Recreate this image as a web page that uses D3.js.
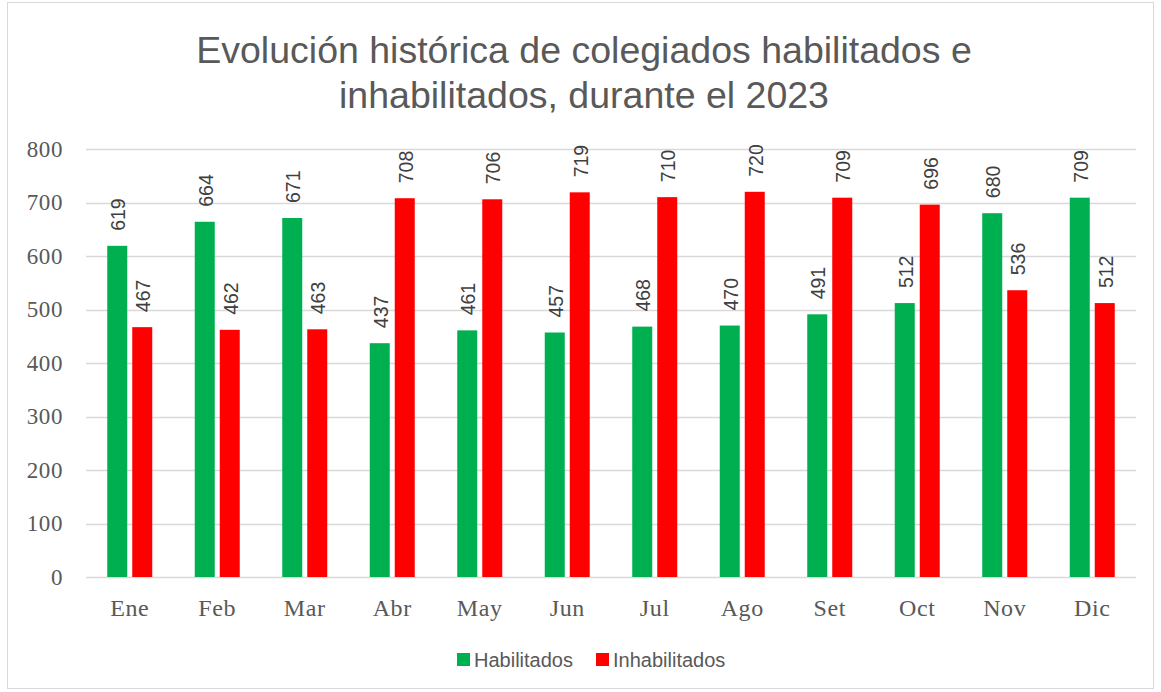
<!DOCTYPE html>
<html>
<head>
<meta charset="utf-8">
<script src="https://cdn.jsdelivr.net/npm/d3@7"></script>
<style>
  body { margin: 0; background: #fff; }
  svg { display: block; }
</style>
</head>
<body>
<svg id="chart" width="1161" height="692"></svg>
<script>
const months = ["Ene", "Feb", "Mar", "Abr", "May", "Jun", "Jul", "Ago", "Set", "Oct", "Nov", "Dic"];
const habilitados = [619, 664, 671, 437, 461, 457, 468, 470, 491, 512, 680, 709];
const inhabilitados = [467, 462, 463, 708, 706, 719, 710, 720, 709, 696, 536, 512];
const yTicks = [0, 100, 200, 300, 400, 500, 600, 700, 800];
const seriesNames = ["Habilitados", "Inhabilitados"];

const colors = { Habilitados: "#00B050", Inhabilitados: "#FF0000" };

const svg = d3.select("#chart");
const margin = { left: 86, right: 25, top: 149, bottom: 115 };
const W = 1161, H = 692;

// outer frame
svg.append("rect")
  .attr("x", 7.5).attr("y", 2.5)
  .attr("width", 1146).attr("height", 686)
  .attr("fill", "#fff")
  .attr("stroke", "#d9d9d9");

// title
const title = svg.append("text")
  .attr("text-anchor", "middle")
  .attr("font-family", "Liberation Sans, Arial, sans-serif")
  .attr("font-size", 37.5)
  .attr("fill", "#595959");
title.append("tspan").attr("x", 584).attr("y", 63).text("Evolución histórica de colegiados habilitados e");
title.append("tspan").attr("x", 584).attr("y", 108).text("inhabilitados, durante el 2023");

const x = d3.scaleBand()
  .domain(months)
  .range([margin.left, W - margin.right])
  .paddingInner(0)
  .paddingOuter(0);

const y = d3.scaleLinear()
  .domain([0, 800])
  .range([H - margin.bottom, margin.top]);

const x1 = d3.scaleBand()
  .domain(seriesNames)
  .range([x.bandwidth() / 2 - 22.5, x.bandwidth() / 2 + 22.5])
  .paddingInner(0.2);

// gridlines
svg.append("g")
  .selectAll("line")
  .data(yTicks)
  .join("line")
  .attr("x1", margin.left)
  .attr("x2", W - margin.right)
  .attr("y1", d => Math.round(y(d)) + 0.5)
  .attr("y2", d => Math.round(y(d)) + 0.5)
  .attr("stroke", "#d9d9d9")
  .attr("stroke-width", 1.5);

// y axis labels
const yAxis = svg.append("g")
  .attr("transform", `translate(${margin.left - 23},0)`)
  .call(d3.axisLeft(y).tickValues(yTicks).tickSize(0).tickPadding(0));
yAxis.select(".domain").remove();
yAxis.selectAll("text")
  .attr("font-family", "Liberation Serif, serif")
  .attr("font-size", 23)
  .attr("letter-spacing", 0.6)
  .attr("fill", "#595959");

// x axis labels
const xAxis = svg.append("g")
  .attr("transform", `translate(0,${H - margin.bottom})`)
  .call(d3.axisBottom(x).tickSize(0).tickPadding(0));
xAxis.select(".domain").remove();
xAxis.selectAll("text")
  .attr("font-family", "Liberation Serif, serif")
  .attr("font-size", 24)
  .attr("letter-spacing", 0.6)
  .attr("fill", "#595959")
  .attr("y", 39)
  .attr("dy", 0);

const rows = months.map((m, i) => ({
  month: m,
  values: [
    { key: "Habilitados", value: habilitados[i] },
    { key: "Inhabilitados", value: inhabilitados[i] }
  ]
}));

const groups = svg.append("g")
  .selectAll("g")
  .data(rows)
  .join("g")
  .attr("transform", d => `translate(${x(d.month)},0)`);

groups.selectAll("rect")
  .data(d => d.values)
  .join("rect")
  .attr("x", d => x1(d.key))
  .attr("width", x1.bandwidth())
  .attr("y", d => y(d.value))
  .attr("height", d => y(0) - y(d.value))
  .attr("fill", d => colors[d.key]);

groups.selectAll("text")
  .data(d => d.values)
  .join("text")
  .attr("transform", d => `translate(${x1(d.key) + x1.bandwidth() / 2 + 1},${y(d.value) - 15}) rotate(-90)`)
  .attr("dy", "0.35em")
  .attr("text-anchor", "start")
  .attr("font-family", "Liberation Sans, Arial, sans-serif")
  .attr("font-size", 19.5)
  .attr("fill", "#404040")
  .text(d => d.value);

// legend
const legend = svg.append("g");
const legendItems = [
  { key: "Habilitados", x: 457 },
  { key: "Inhabilitados", x: 596 }
];
legend.selectAll("rect")
  .data(legendItems)
  .join("rect")
  .attr("x", d => d.x)
  .attr("y", 653)
  .attr("width", 13)
  .attr("height", 13)
  .attr("fill", d => colors[d.key]);
legend.selectAll("text")
  .data(legendItems)
  .join("text")
  .attr("x", d => d.x + 17)
  .attr("y", 667)
  .attr("font-family", "Liberation Sans, Arial, sans-serif")
  .attr("font-size", 20)
  .attr("fill", "#595959")
  .text(d => d.key);
</script>
</body>
</html>
